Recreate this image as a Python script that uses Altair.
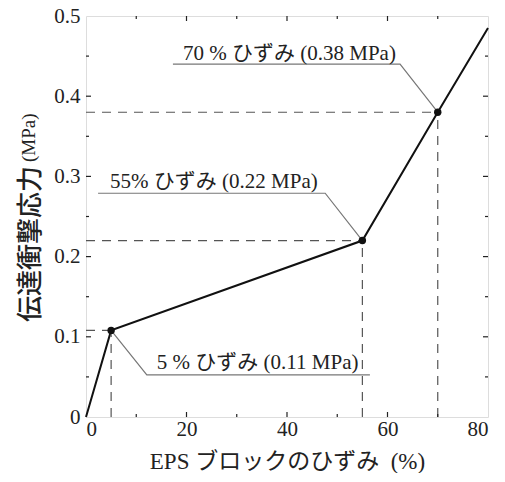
import altair as alt
import pandas as pd

# main curve
strain = [0, 5, 55, 70, 80]
stress = [0, 0.108, 0.22, 0.38, 0.485]

# marked points
mark_strain = [5, 55, 70]
mark_stress = [0.108, 0.22, 0.38]

# annotations
ann_labels = ["70 % ひずみ (0.38 MPa)", "55% ひずみ (0.22 MPa)", "5 % ひずみ (0.11 MPa)"]
ann_x = [19.3, 4.8, 14.1]
ann_y = [0.4525, 0.2925, 0.0675]

# leader lines (one polyline per annotation)
leader_id = [0, 0, 0, 1, 1, 1, 2, 2, 2]
leader_order = [0, 1, 2, 0, 1, 2, 0, 1, 2]
leader_x = [17.3, 62.5, 70, 2.4, 47.6, 55, 5, 12.1, 56.5]
leader_y = [0.44, 0.44, 0.38, 0.279, 0.279, 0.22, 0.108, 0.0525, 0.0525]

# ticks
x_major = [20, 40, 60]
x_minor = [10, 30, 50, 70]
y_major = [0.1, 0.2, 0.3, 0.4]
y_minor = [0.05, 0.15, 0.25, 0.35, 0.45]

x_title = "EPS ブロックのひずみ\u00a0\u00a0(%)"
y_title_main = "伝達衝撃応力"
y_title_unit = "(MPa)"

W, H = 402, 401
SERIF = "Liberation Serif"
FONT = "Liberation Serif, Noto Sans CJK JP"

xs = alt.Scale(domain=[0, 80], nice=False, zero=False)
ys = alt.Scale(domain=[0, 0.5], nice=False, zero=False)

curve_df = pd.DataFrame({"x": strain, "y": stress})
pts_df = pd.DataFrame({"x": mark_strain, "y": mark_stress})
ann_df = pd.DataFrame({"t": ann_labels, "x": ann_x, "y": ann_y})
lead_df = pd.DataFrame({"id": leader_id, "o": leader_order, "x": leader_x, "y": leader_y})
hdash_df = pd.DataFrame({"x0": [0] * 3, "x": mark_strain, "y": mark_stress})
vdash_df = pd.DataFrame({"x": mark_strain, "y0": [0] * 3, "y": mark_stress})

axis_x = alt.Axis(values=[0, 20, 40, 60, 80], ticks=False, tickSize=0, domain=False, grid=False,
                  labelFont=SERIF, labelFontSize=21, labelColor="#222", labelPadding=1,
                  title=x_title, titleFont=FONT, titleFontSize=23, titleFontWeight="normal",
                  titleColor="#222", titlePadding=11)
axis_y = alt.Axis(values=[0, 0.1, 0.2, 0.3, 0.4, 0.5], format="~g", ticks=False, tickSize=0,
                  domain=False, grid=False, labelFont=SERIF, labelFontSize=21, labelColor="#222",
                  labelPadding=6, title=None)

base_line = alt.Chart(curve_df).mark_line(color="#111", strokeWidth=2).encode(
    x=alt.X("x:Q", scale=xs, axis=axis_x),
    y=alt.Y("y:Q", scale=ys, axis=axis_y),
)

hdash = alt.Chart(hdash_df).mark_rule(color="#555", strokeWidth=1.2, strokeDash=[9, 7]).encode(
    x=alt.X("x0:Q", scale=xs), x2="x:Q", y=alt.Y("y:Q", scale=ys))
vdash = alt.Chart(vdash_df).mark_rule(color="#555", strokeWidth=1.2, strokeDash=[9, 7]).encode(
    x=alt.X("x:Q", scale=xs), y=alt.Y("y0:Q", scale=ys), y2="y:Q")

leaders = alt.Chart(lead_df).mark_line(color="#777", strokeWidth=1.2).encode(
    x=alt.X("x:Q", scale=xs), y=alt.Y("y:Q", scale=ys), detail="id:N", order="o:Q")

points = alt.Chart(pts_df).mark_circle(color="#111", size=55, opacity=1).encode(
    x=alt.X("x:Q", scale=xs), y=alt.Y("y:Q", scale=ys))

ann = alt.Chart(ann_df).mark_text(font=FONT, fontSize=21, align="left", baseline="middle",
                                  color="#222").encode(
    x=alt.X("x:Q", scale=xs), y=alt.Y("y:Q", scale=ys), text="t:N")

def tick_layer(vals, orient, length):
    df = pd.DataFrame({"v": vals})
    m = alt.Chart(df).mark_rule(color="#222", strokeWidth=1.2)
    if orient == "bottom":
        return m.encode(x=alt.X("v:Q", scale=xs), y=alt.value(H), y2=alt.value(H - length))
    if orient == "top":
        return m.encode(x=alt.X("v:Q", scale=xs), y=alt.value(0), y2=alt.value(length))
    if orient == "left":
        return m.encode(y=alt.Y("v:Q", scale=ys), x=alt.value(0), x2=alt.value(length))
    return m.encode(y=alt.Y("v:Q", scale=ys), x=alt.value(W), x2=alt.value(W - length))

ticks = [tick_layer(x_major, o, 5) for o in ("bottom", "top")] + \
        [tick_layer(x_minor, o, 3) for o in ("bottom", "top")] + \
        [tick_layer(y_major, o, 5) for o in ("left", "right")] + \
        [tick_layer(y_minor, o, 3) for o in ("left", "right")]

yt_main = alt.Chart(pd.DataFrame({"t": [y_title_main]})).mark_text(
    font="Noto Sans CJK JP", fontSize=26, angle=270, align="left", baseline="middle",
    color="#222", fontWeight=500).encode(x=alt.value(-55), y=alt.value(306), text="t:N")
yt_unit = alt.Chart(pd.DataFrame({"t": [y_title_unit]})).mark_text(
    font=SERIF, fontSize=19, angle=270, align="left", baseline="middle",
    color="#222").encode(x=alt.value(-57), y=alt.value(146), text="t:N")

chart = alt.layer(base_line, hdash, vdash, leaders, *ticks, points, ann, yt_main, yt_unit).properties(
    width=W, height=H,
    autosize=alt.AutoSizeParams(type="none"),
    padding={"left": 78, "top": 8, "right": 3, "bottom": 56},
).configure_view(stroke="#222", strokeWidth=1.5).configure(background="white")

chart.save("out.html", embed_options={"renderer": "svg", "actions": False})
